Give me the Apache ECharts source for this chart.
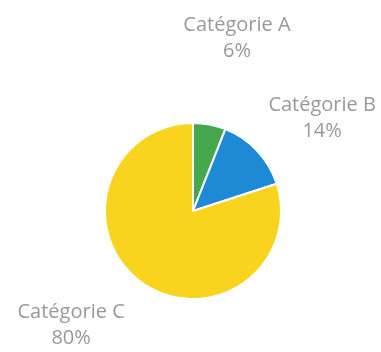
<!DOCTYPE html>
<html>
<head>
<meta charset="utf-8">
<script src="https://cdn.jsdelivr.net/npm/echarts@6/dist/echarts.min.js"></script>
<style>
  html, body { margin: 0; padding: 0; background: #ffffff; }
  #chart { width: 381px; height: 352px; }
</style>
</head>
<body>
<div id="chart"></div>
<script>
// Share of each category, in percent
const categories = ['Catégorie A', 'Catégorie B', 'Catégorie C'];
const shares = [6, 14, 80];
const sliceColors = ['#45a74e', '#1e8ad6', '#f8d41e'];

// Leader line lengths (lines are hidden; they only place each label)
const lineLength = [88, 48, 53];
const lineLength2 = [6, 25, 34];

const chart = echarts.init(document.getElementById('chart'), null, { renderer: 'canvas' });

const data = categories.map((name, i) => ({
  name: name,
  value: shares[i],
  itemStyle: { color: sliceColors[i] },
  labelLine: { show: false, length: lineLength[i], length2: lineLength2[i] }
}));

chart.setOption({
  animation: false,
  backgroundColor: '#ffffff',
  series: [{
    type: 'pie',
    center: [193, 211],
    radius: 88,
    startAngle: 90,
    clockwise: true,
    avoidLabelOverlap: false,
    itemStyle: { borderColor: '#ffffff', borderWidth: 2 },
    label: {
      show: true,
      position: 'outside',
      formatter: p => p.name + '\n' + p.value + '%',
      fontFamily: 'Open Sans',
      fontSize: 20,
      lineHeight: 26,
      color: '#999999'
    },
    labelLayout: { align: 'center', verticalAlign: 'middle' },
    data: data
  }]
});
</script>
</body>
</html>
